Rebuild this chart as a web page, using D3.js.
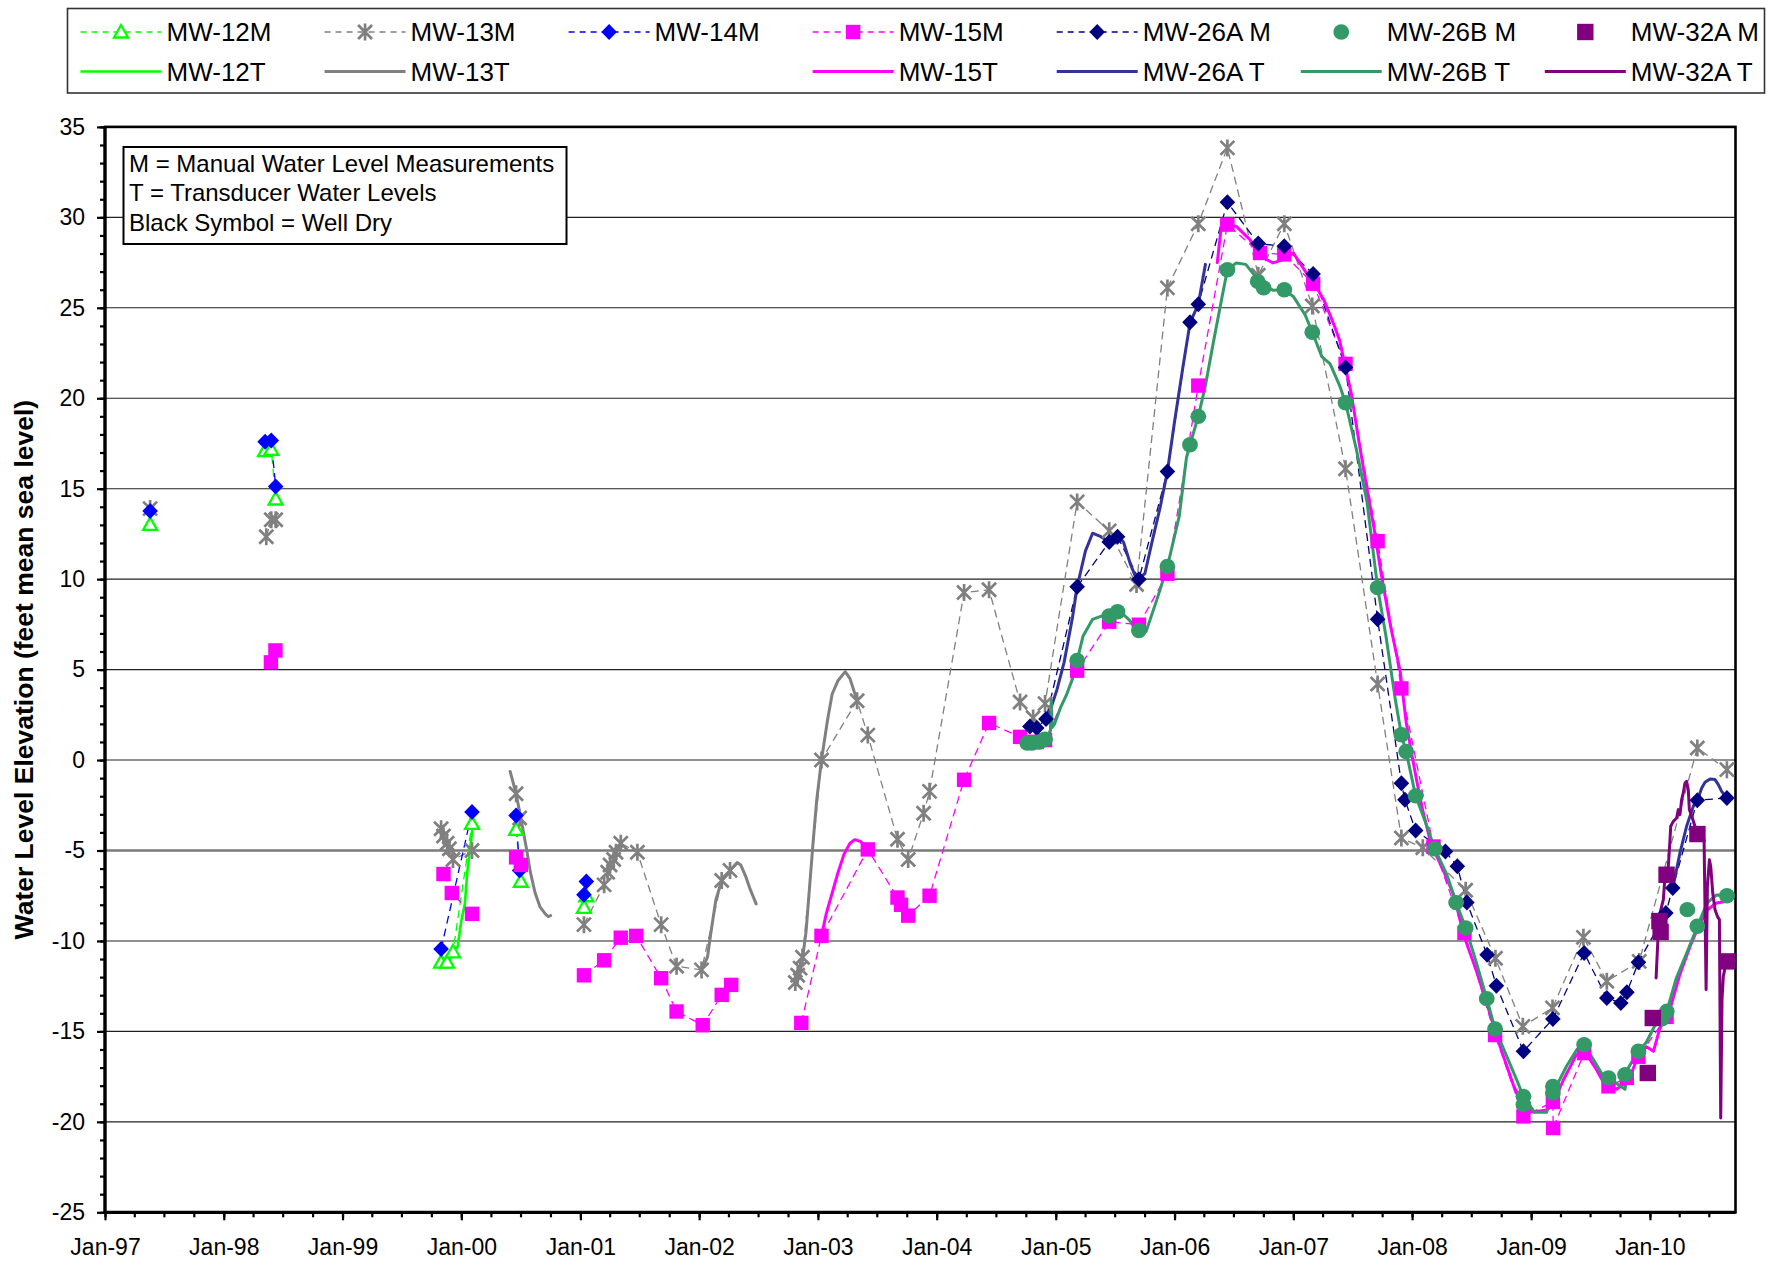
<!DOCTYPE html>
<html>
<head>
<meta charset="utf-8">
<script src="https://cdn.jsdelivr.net/npm/d3@7"></script>
<style>
  body { margin: 0; background: #fff; }
  svg { display: block; }
  text { font-family: "Liberation Sans", Arial, sans-serif; fill: #000; }
</style>
</head>
<body>
<svg id="chart" width="1767" height="1261"></svg>
<script>
// ---- Water level observations: [decimal year, elevation (ft msl)], null = gap ----
const xTickLabels = ["Jan-97","Jan-98","Jan-99","Jan-00","Jan-01","Jan-02","Jan-03",
                     "Jan-04","Jan-05","Jan-06","Jan-07","Jan-08","Jan-09","Jan-10"];
const yTickValues = [-25,-20,-15,-10,-5,0,5,10,15,20,25,30,35];

const mw12M = [
  [1997.38,13.03], null,
  [1998.348,17.1],[1998.40,17.17],[1998.437,14.43], null,
  [1999.83,-11.17],[1999.88,-11.17],[1999.93,-10.6],[2000.09,-3.5], null,
  [2000.46,-3.83],[2000.50,-6.7], null,
  [2001.03,-8.14],[2001.05,-7.5]
];
const mw12T = [
  [1999.86,-11.2],[1999.93,-10.75],[1999.97,-10.3],[2000.0,-8.9],[2000.03,-7.95],
  [2000.05,-6.2],[2000.08,-4.6],[2000.10,-3.4]
];
const mw13M = [
  [1997.38,13.9], null,
  [1998.358,12.34],[1998.40,13.28],[1998.437,13.28], null,
  [1999.83,-3.8],[1999.85,-4.2],[1999.88,-4.6],[1999.90,-4.9],[1999.93,-5.5],[2000.09,-5.0], null,
  [2000.46,-1.86],[2000.49,-3.2], null,
  [2001.03,-9.1],[2001.20,-6.9],[2001.23,-6.2],[2001.25,-5.8],[2001.28,-5.5],[2001.30,-5.1],
  [2001.34,-4.6],[2001.48,-5.1],[2001.68,-9.1],[2001.81,-11.4],[2002.02,-11.6],[2002.19,-6.66],
  [2002.26,-6.1], null,
  [2002.81,-12.3],[2002.83,-11.9],[2002.85,-11.5],[2002.87,-10.9],[2003.03,0.0],[2003.33,3.28],
  [2003.42,1.38],[2003.67,-4.38],[2003.76,-5.5],[2003.89,-2.94],[2003.94,-1.73],[2004.23,9.26],
  [2004.44,9.41],[2004.70,3.21],[2004.81,2.33],[2004.91,3.12],[2005.18,14.27],[2005.45,12.67],
  [2005.68,9.7],[2005.94,26.1],[2006.20,29.65],[2006.445,33.84],[2006.705,26.8],[2006.924,29.65],
  [2007.16,25.1],[2007.44,16.1],[2007.71,4.2],[2007.91,-4.31],[2008.09,-4.85],[2008.45,-7.2],
  [2008.70,-10.96],[2008.93,-14.72],[2009.18,-13.7],[2009.44,-9.8],[2009.637,-12.23],
  [2009.91,-11.13],[2010.399,0.67],[2010.648,-0.53]
];
const mw13T = [
  [2000.41,-0.63],[2000.46,-1.86],[2000.50,-3.2],[2000.55,-5.0],[2000.58,-6.2],[2000.62,-7.35],
  [2000.66,-8.1],[2000.705,-8.5],[2000.73,-8.65],[2000.75,-8.6], null,
  [2002.02,-11.6],[2002.07,-10.9],[2002.10,-9.5],[2002.14,-7.75],[2002.19,-6.66],[2002.26,-6.1],
  [2002.32,-5.67],[2002.35,-5.8],[2002.39,-6.4],[2002.43,-7.15],[2002.48,-7.95], null,
  [2002.87,-11.0],[2002.90,-9.5],[2002.93,-7.0],[2002.96,-4.5],[2002.99,-2.2],[2003.03,0.0],
  [2003.08,2.17],[2003.12,3.65],[2003.17,4.4],[2003.23,4.89],[2003.27,4.5],[2003.33,3.28]
];
const mw14M = [
  [1997.38,13.77], null,
  [1998.348,17.59],[1998.40,17.66],[1998.437,15.12], null,
  [1999.83,-10.45],[2000.09,-2.87], null,
  [2000.46,-3.06],[2000.49,-6.1], null,
  [2001.03,-7.45],[2001.05,-6.72]
];
const mw15M = [
  [1998.397,5.4],[1998.435,6.06], null,
  [1999.85,-6.3],[1999.92,-7.35],[2000.09,-8.5], null,
  [2000.46,-5.38],[2000.50,-5.8], null,
  [2001.03,-11.9],[2001.20,-11.07],[2001.34,-9.82],[2001.47,-9.72],[2001.68,-12.06],[2001.81,-13.9],
  [2002.03,-14.66],[2002.19,-12.98],[2002.27,-12.43], null,
  [2002.86,-14.53],[2003.03,-9.72],[2003.42,-4.94],[2003.67,-7.6],[2003.70,-8.0],[2003.76,-8.6],
  [2003.94,-7.5],[2004.23,-1.09],[2004.44,2.05],[2004.70,1.28],[2004.80,1.0],[2004.84,1.0],
  [2004.91,1.1],[2005.18,4.94],[2005.45,7.65],[2005.70,7.48],[2005.94,10.3],[2006.20,20.7],
  [2006.445,29.6],[2006.72,28.03],[2006.924,27.95],[2007.167,26.33],[2007.44,21.9],[2007.71,12.1],
  [2007.91,3.96],[2008.18,-4.78],[2008.44,-9.56],[2008.697,-15.2],[2008.935,-19.7],[2009.183,-18.9],
  [2009.185,-20.34],[2009.446,-16.2],[2009.651,-18.04],[2009.805,-17.57],[2009.903,-16.4],
  [2010.14,-14.2]
];
const mw15T = [
  [2003.03,-9.72],[2003.07,-8.5],[2003.12,-7.35],[2003.17,-6.2],[2003.22,-5.2],[2003.27,-4.6],
  [2003.31,-4.4],[2003.36,-4.5],[2003.42,-4.94], null,
  [2006.36,27.5],[2006.40,29.87],[2006.445,29.6],[2006.52,29.5],[2006.635,28.77],[2006.72,27.85],
  [2006.83,27.48],[2006.915,27.66],[2007.0,28.03],[2007.11,26.93],[2007.19,26.19],[2007.26,25.4],
  [2007.34,24.1],[2007.39,23.2],[2007.44,21.7],[2007.49,20.2],[2007.55,17.7],[2007.62,15.0],
  [2007.68,12.8],[2007.74,10.3],[2007.82,7.36],[2007.90,4.9],[2007.95,2.1],[2008.0,0.23],
  [2008.04,-1.17],[2008.09,-2.8],[2008.16,-4.66],[2008.26,-6.06],[2008.35,-7.46],[2008.44,-9.8],
  [2008.54,-11.65],[2008.63,-13.5],[2008.74,-15.85],[2008.85,-17.95],[2008.93,-19.1],
  [2009.02,-19.46],[2009.13,-19.35],[2009.18,-19.1],[2009.27,-17.7],[2009.38,-16.3],
  [2009.45,-16.1],[2009.54,-17.0],[2009.62,-17.95],[2009.72,-18.2],[2009.82,-17.7],
  [2009.90,-16.4],[2009.97,-15.85],[2010.03,-16.1],[2010.08,-14.9],[2010.17,-13.75],
  [2010.25,-11.9],[2010.34,-10.26],[2010.41,-9.2],[2010.48,-8.3],[2010.56,-7.9],[2010.65,-7.8]
];
const mw26AM = [
  [2004.783,1.86],[2004.84,1.77],[2004.918,2.27],[2005.18,9.58],[2005.45,12.05],[2005.52,12.35],
  [2005.70,10.0],[2005.94,15.95],[2006.13,24.2],[2006.20,25.2],[2006.445,30.83],[2006.705,28.55],
  [2006.924,28.4],[2007.167,26.87],[2007.44,21.7],[2007.71,7.78],[2007.91,-1.28],[2007.94,-2.2],
  [2008.03,-3.9],[2008.28,-5.06],[2008.38,-5.87],[2008.46,-7.88],[2008.63,-10.76],[2008.708,-12.47],
  [2008.935,-16.1],[2009.183,-14.31],[2009.446,-10.66],[2009.637,-13.15],[2009.755,-13.43],
  [2009.806,-12.84],[2009.903,-11.18],[2010.134,-8.45],[2010.192,-7.07],[2010.399,-2.22],
  [2010.648,-2.1]
];
const mw26AT = [
  [2004.918,2.27],[2004.95,2.69],[2005.01,3.89],[2005.07,5.4],[2005.14,7.85],[2005.18,9.58],
  [2005.25,11.56],[2005.31,12.54],[2005.38,12.35],[2005.45,12.05],[2005.52,12.4],[2005.57,12.05],
  [2005.63,10.8],[2005.68,10.0],[2005.75,10.3],[2005.81,12.05],[2005.88,14.0],[2005.94,15.95],
  [2006.0,18.7],[2006.07,21.7],[2006.13,24.15],[2006.20,25.2],[2006.26,27.4], null,
  [2010.192,-7.07],[2010.253,-5.13],[2010.309,-3.66],[2010.365,-2.56],[2010.407,-2.1],
  [2010.436,-1.55],[2010.464,-1.23],[2010.506,-1.05],[2010.548,-1.08],[2010.576,-1.36],
  [2010.604,-1.73],[2010.646,-2.1]
];
const mw26BM = [
  [2004.76,0.94],[2004.80,0.94],[2004.86,1.0],[2004.91,1.15],[2005.18,5.5],[2005.45,7.97],
  [2005.52,8.2],[2005.70,7.16],[2005.94,10.7],[2006.13,17.43],[2006.20,19.0],[2006.445,27.1],
  [2006.70,26.46],[2006.75,26.1],[2006.924,26.0],[2007.16,23.65],[2007.44,19.75],[2007.71,9.53],
  [2007.91,1.4],[2007.95,0.47],[2008.03,-1.98],[2008.19,-4.9],[2008.37,-7.88],[2008.45,-9.28],
  [2008.627,-13.19],[2008.697,-14.87],[2008.935,-18.59],[2008.935,-19.05],[2009.183,-18.04],
  [2009.183,-18.4],[2009.446,-15.73],[2009.651,-17.57],[2009.791,-17.39],[2009.903,-16.1],
  [2010.10,-14.3],[2010.142,-13.89],[2010.315,-8.27],[2010.399,-9.19],[2010.648,-7.5]
];
const mw26BT = [
  [2004.76,0.85],[2004.85,0.95],[2004.93,1.1],[2004.955,1.6],[2004.962,3.3],[2004.97,1.8],
  [2004.99,2.0],[2005.04,2.9],[2005.09,3.6],[2005.135,4.4],[2005.18,5.5],[2005.23,6.86],
  [2005.31,7.78],[2005.39,7.97],[2005.52,8.35],[2005.62,7.73],[2005.70,7.0],[2005.76,7.1],
  [2005.85,8.84],[2005.94,10.7],[2006.04,13.5],[2006.10,16.7],[2006.13,17.43],[2006.20,19.0],
  [2006.26,20.7],[2006.33,23.2],[2006.40,25.6],[2006.445,27.1],[2006.52,27.48],[2006.60,27.4],
  [2006.68,26.74],[2006.75,26.28],[2006.83,25.97],[2006.92,26.0],[2007.0,25.63],[2007.10,24.6],
  [2007.16,23.65],[2007.24,22.3],[2007.31,21.9],[2007.39,20.7],[2007.44,19.75],[2007.53,17.2],
  [2007.62,14.3],[2007.71,9.53],[2007.78,6.86],[2007.86,3.3],[2007.91,1.4],[2007.95,0.47],
  [2008.03,-1.98],[2008.11,-3.38],[2008.19,-4.9],[2008.29,-6.3],[2008.37,-7.88],[2008.45,-9.28],
  [2008.54,-11.2],[2008.627,-13.19],[2008.697,-14.87],[2008.79,-16.3],[2008.88,-17.7],
  [2008.935,-18.6],[2009.03,-19.47],[2009.13,-19.47],[2009.183,-18.4],[2009.30,-16.9],
  [2009.385,-16.0],[2009.446,-15.73],[2009.524,-16.56],[2009.608,-17.48],[2009.692,-17.76],
  [2009.79,-18.2],[2009.82,-17.0],[2009.903,-16.1],[2009.97,-15.6],[2010.04,-14.7],
  [2010.142,-13.89],[2010.22,-12.1],[2010.32,-10.5],[2010.40,-9.19],[2010.48,-7.9],
  [2010.56,-7.46],[2010.648,-7.5]
];
const mw32AM = [
  [2009.982,-17.3],[2010.024,-14.26],[2010.08,-8.9],[2010.09,-9.5],[2010.14,-6.34],
  [2010.40,-4.09],[2010.65,-11.13]
];
const mw32AT = [
  [2010.052,-12.05],[2010.071,-9.38],[2010.085,-8.45],[2010.113,-7.72],[2010.127,-6.43],
  [2010.155,-5.88],[2010.169,-4.4],[2010.175,-3.66],[2010.197,-3.39],[2010.225,-3.2],
  [2010.239,-2.74],[2010.253,-3.02],[2010.267,-2.19],[2010.281,-1.82],[2010.295,-1.27],
  [2010.309,-1.18],[2010.323,-1.64],[2010.332,-2.74],[2010.351,-3.07],[2010.379,-3.66],
  [2010.399,-4.09],[2010.436,-4.22],[2010.456,-4.4],[2010.473,-12.69],[2010.484,-6.98],
  [2010.501,-5.51],[2010.512,-5.88],[2010.529,-7.35],[2010.548,-8.27],[2010.568,-8.64],
  [2010.585,-8.82],[2010.596,-19.79],[2010.607,-13.24],[2010.618,-11.96],[2010.641,-11.22],
  [2010.717,-11.13]
];

// ---- series styling ----
const measured = [
  { name: "MW-12M",   data: mw12M,  color: "#00FF00", dashed: true,  marker: "triangle" },
  { name: "MW-13M",   data: mw13M,  color: "#808080", dashed: true,  marker: "asterisk" },
  { name: "MW-14M",   data: mw14M,  color: "#0000FF", dashed: true,  marker: "diamond" },
  { name: "MW-15M",   data: mw15M,  color: "#FF00FF", dashed: true,  marker: "square" },
  { name: "MW-26A M", data: mw26AM, color: "#000080", dashed: true,  marker: "diamond" },
  { name: "MW-26B M", data: mw26BM, color: "#339966", dashed: false, marker: "circle" },
  { name: "MW-32A M", data: mw32AM, color: "#800080", dashed: false, marker: "bigsquare" }
];
const transducer = [
  { name: "MW-12T",   data: mw12T,  color: "#00FF00", width: 2.6 },
  { name: "MW-13T",   data: mw13T,  color: "#808080", width: 3 },
  { name: "MW-15T",   data: mw15T,  color: "#FF00FF", width: 3 },
  { name: "MW-26A T", data: mw26AT, color: "#333399", width: 3 },
  { name: "MW-26B T", data: mw26BT, color: "#339966", width: 3 },
  { name: "MW-32A T", data: mw32AT, color: "#800080", width: 3 }
];

// decimal year -> Date
function toDate(yr) {
  const Y = Math.floor(yr);
  const a = new Date(Y, 0, 1), b = new Date(Y + 1, 0, 1);
  return new Date(+a + (yr - Y) * (b - a));
}

const svg = d3.select("#chart");
const plot = { left: 105, right: 1735.5, top: 126.9, bottom: 1212.3 };

const x = d3.scaleTime()
  .domain([new Date(1997, 0, 1), new Date(2010, 8, 21)])
  .range([plot.left, plot.right]);
const y = d3.scaleLinear().domain([-25, 35]).range([plot.bottom, plot.top]);

// gridlines
svg.append("g").selectAll("line")
  .data(yTickValues.filter(v => v > -25 && v < 35))
  .join("line")
  .attr("x1", plot.left).attr("x2", plot.right)
  .attr("y1", d => y(d)).attr("y2", d => y(d))
  .attr("stroke", d => d === -5 ? "#7a7a7a" : "#222")
  .attr("stroke-width", d => d === -5 ? 2.4 : 1.1);

// axes
const minorY = svg.append("g").attr("transform", `translate(${plot.left},0)`)
  .call(d3.axisLeft(y).tickValues(d3.range(-25, 36, 1)).tickSize(5).tickFormat(""));
const majorY = svg.append("g").attr("transform", `translate(${plot.left},0)`)
  .call(d3.axisLeft(y).tickValues(yTickValues).tickSize(8).tickPadding(12).tickFormat(d => d));
const minorX = svg.append("g").attr("transform", `translate(0,${plot.bottom})`)
  .call(d3.axisBottom(x).ticks(d3.timeMonth.every(3)).tickSize(5).tickFormat(""));
const majorX = svg.append("g").attr("transform", `translate(0,${plot.bottom})`)
  .call(d3.axisBottom(x).ticks(d3.timeYear.every(1)).tickSize(8).tickPadding(18)
    .tickFormat((d, i) => xTickLabels[i]));
[minorY, majorY, minorX, majorX].forEach(g => {
  g.select(".domain").remove();
  g.selectAll(".tick line").attr("stroke", "#000").attr("stroke-width", 2.2);
  g.selectAll(".tick text").attr("font-size", 23).attr("font-family", '"Liberation Sans", Arial, sans-serif').attr("fill", "#000");
});

// plot frame
svg.append("rect")
  .attr("x", plot.left).attr("y", plot.top)
  .attr("width", plot.right - plot.left).attr("height", plot.bottom - plot.top)
  .attr("fill", "none").attr("stroke", "#000").attr("stroke-width", 2.6);
svg.append("line").attr("x1", plot.left).attr("x2", plot.left)
  .attr("y1", plot.top).attr("y2", plot.bottom + 1.5).attr("stroke", "#000").attr("stroke-width", 3.2);
svg.append("line").attr("x1", plot.left - 1.5).attr("x2", plot.right)
  .attr("y1", plot.bottom).attr("y2", plot.bottom).attr("stroke", "#000").attr("stroke-width", 3.2);

// y axis title
svg.append("text")
  .attr("transform", `translate(33,${(plot.top + plot.bottom) / 2}) rotate(-90)`)
  .attr("text-anchor", "middle")
  .attr("font-size", 26.5).attr("font-weight", "bold")
  .text("Water Level Elevation (feet mean sea level)");

// marker shapes
function drawMarker(g, type, cx, cy, color) {
  switch (type) {
    case "triangle":
      g.append("path").attr("d", `M${cx},${cy - 7}L${cx + 7},${cy + 5.5}L${cx - 7},${cy + 5.5}Z`)
        .attr("fill", "#fff").attr("stroke", color).attr("stroke-width", 2.3);
      break;
    case "asterisk":
      g.append("path").attr("d",
        `M${cx - 7},${cy - 7}L${cx + 7},${cy + 7}M${cx + 7},${cy - 7}L${cx - 7},${cy + 7}M${cx},${cy - 8.5}L${cx},${cy + 8.5}`)
        .attr("fill", "none").attr("stroke", color).attr("stroke-width", 2.7);
      break;
    case "diamond":
      g.append("path").attr("d", `M${cx},${cy - 8}L${cx + 7.8},${cy}L${cx},${cy + 8}L${cx - 7.8},${cy}Z`)
        .attr("fill", color);
      break;
    case "square":
      g.append("rect").attr("x", cx - 7.2).attr("y", cy - 7.2).attr("width", 14.4).attr("height", 14.4)
        .attr("fill", color);
      break;
    case "bigsquare":
      g.append("rect").attr("x", cx - 8.2).attr("y", cy - 8.2).attr("width", 16.4).attr("height", 16.4)
        .attr("fill", color);
      break;
    case "circle":
      g.append("ellipse").attr("cx", cx).attr("cy", cy).attr("rx", 7.9).attr("ry", 7.7)
        .attr("fill", color);
      break;
  }
}

const line = d3.line()
  .defined(d => d !== null)
  .x(d => x(toDate(d[0])))
  .y(d => y(d[1]));

const marks = svg.append("g");
// dashed connectors for manual measurements
measured.filter(s => s.dashed).forEach(s => {
  marks.append("path").datum(s.data).attr("d", line)
    .attr("fill", "none").attr("stroke", s.color).attr("stroke-width", 1.3)
    .attr("stroke-dasharray", "8,5");
});
// transducer records
transducer.forEach(s => {
  marks.append("path").datum(s.data).attr("d", line)
    .attr("fill", "none").attr("stroke", s.color).attr("stroke-width", s.width)
    .attr("stroke-linejoin", "round").attr("stroke-linecap", "round");
});
// measurement symbols
measured.forEach(s => {
  const g = marks.append("g");
  s.data.filter(d => d !== null).forEach(d => {
    drawMarker(g, s.marker, x(toDate(d[0])), y(d[1]), s.color);
  });
});

// note box
const note = svg.append("g");
note.append("rect").attr("x", 123.5).attr("y", 147).attr("width", 443).attr("height", 97)
  .attr("fill", "#fff").attr("stroke", "#000").attr("stroke-width", 2);
["M = Manual Water Level Measurements", "T = Transducer Water Levels", "Black Symbol = Well Dry"]
  .forEach((t, i) => {
    note.append("text").attr("x", 129).attr("y", 172 + i * 29.3).attr("font-size", 24).text(t);
  });

// legend
const legend = svg.append("g");
legend.append("rect").attr("x", 67.5).attr("y", 8.5).attr("width", 1697).attr("height", 84.5)
  .attr("fill", "#fff").attr("stroke", "#333").attr("stroke-width", 1.6);
const colX = i => 166.5 + i * 244.05;
const rowY = [32, 71.5];
const legendItems = [
  ...measured.map((s, i) => ({ s, col: i, row: 0, kind: "M" })),
  { s: transducer[0], col: 0, row: 1, kind: "T" },
  { s: transducer[1], col: 1, row: 1, kind: "T" },
  { s: transducer[2], col: 3, row: 1, kind: "T" },
  { s: transducer[3], col: 4, row: 1, kind: "T" },
  { s: transducer[4], col: 5, row: 1, kind: "T" },
  { s: transducer[5], col: 6, row: 1, kind: "T" }
];
legendItems.forEach(it => {
  const tx = colX(it.col), ty = rowY[it.row];
  const x1 = tx - 86, x2 = tx - 5, xm = (x1 + x2) / 2;
  if (it.kind === "M") {
    if (it.s.dashed) {
      legend.append("line").attr("x1", x1).attr("x2", x2).attr("y1", ty).attr("y2", ty)
        .attr("stroke", it.s.color).attr("stroke-width", 1.3).attr("stroke-dasharray", "6,5");
    }
    drawMarker(legend, it.s.marker, xm, ty, it.s.color);
  } else {
    legend.append("line").attr("x1", x1).attr("x2", x2).attr("y1", ty).attr("y2", ty)
      .attr("stroke", it.s.color).attr("stroke-width", it.s.width);
  }
  legend.append("text").attr("x", tx).attr("y", ty).attr("dy", "0.36em")
    .attr("font-size", 26).text(it.s.name);
});
</script>
</body>
</html>
